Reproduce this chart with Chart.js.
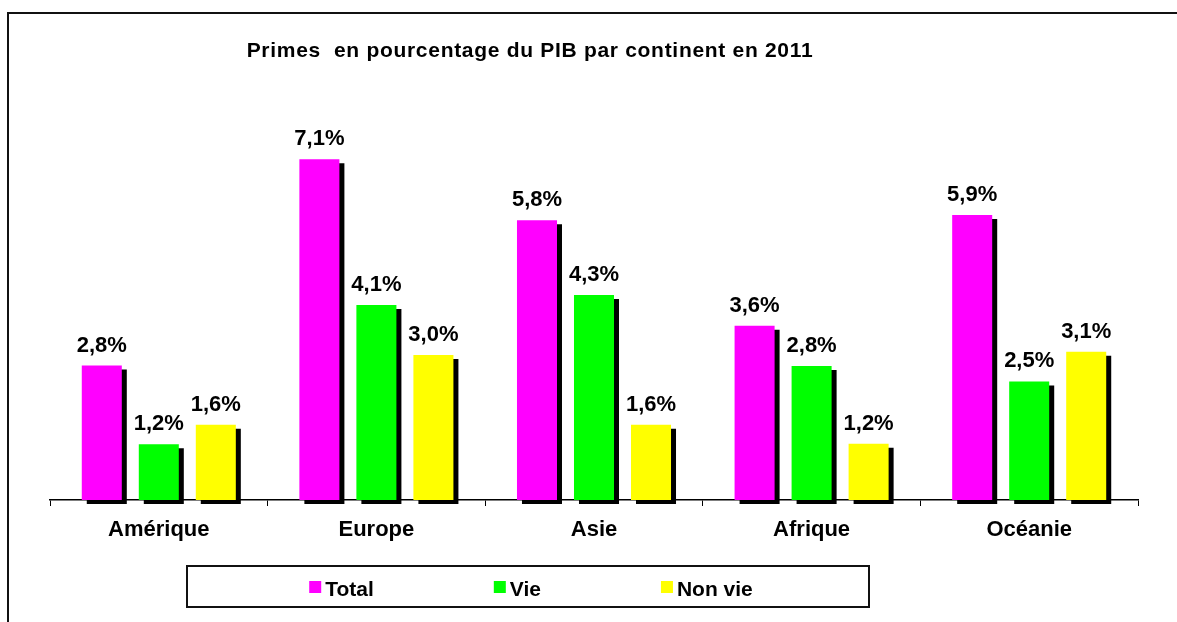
<!DOCTYPE html>
<html>
<head>
<meta charset="utf-8">
<script src="https://cdn.jsdelivr.net/npm/chart.js@4/dist/chart.umd.min.js"></script>
<style>
  body { margin: 0; background: #fff; }
  #wrap { width: 1177px; height: 622px; }
</style>
</head>
<body>
<div id="wrap"><canvas id="myChart" width="1177" height="622"></canvas></div>
<script>
'use strict';
var continents = ['Amérique', 'Europe', 'Asie', 'Afrique', 'Océanie'];
var total = [2.8, 7.1, 5.83, 3.63, 5.94];
var vie = [1.16, 4.06, 4.27, 2.79, 2.47];
var nonVie = [1.57, 3.02, 1.57, 1.17, 3.09];
var seriesNames = ['Total', 'Vie', 'Non vie'];
var seriesColors = ['#ff00ff', '#00ff00', '#ffff00'];
var chartTitle = 'Primes  en pourcentage du PIB par continent en 2011';

var FONT = '"Liberation Sans", Arial, sans-serif';

function fmt(v) {
  return v.toFixed(1).replace('.', ',') + '%';
}

// cadre (seuls les bords gauche et haut sont visibles) + titre
var framePlugin = {
  id: 'frame',
  beforeDraw: function (chart) {
    var c = chart.ctx;
    c.save();
    c.strokeStyle = '#111';
    c.lineWidth = 2;
    c.beginPath();
    c.moveTo(8, chart.height);
    c.lineTo(8, 13);
    c.lineTo(chart.width, 13);
    c.stroke();
    c.fillStyle = '#000';
    c.font = 'bold 21px ' + FONT;
    c.letterSpacing = '0.7px';
    c.textAlign = 'center';
    c.textBaseline = 'alphabetic';
    c.fillText(chartTitle, 530, 57);
    c.restore();
  }
};

// ombre noire décalée sous chaque barre, puis étiquettes
var shadowPlugin = {
  id: 'barShadow',
  beforeDatasetsDraw: function (chart) {
    var c = chart.ctx;
    c.save();
    c.shadowColor = '#000';
    c.shadowBlur = 0;
    c.shadowOffsetX = 5;
    c.shadowOffsetY = 4;
  },
  afterDatasetsDraw: function (chart) {
    var c = chart.ctx;
    c.restore();
    c.save();
    c.fillStyle = '#000';
    c.font = 'bold 22px ' + FONT;
    c.textAlign = 'center';
    c.textBaseline = 'alphabetic';
    chart.data.datasets.forEach(function (ds, i) {
      chart.getDatasetMeta(i).data.forEach(function (bar, j) {
        c.fillText(fmt(ds.data[j]), bar.x, bar.y - 14);
      });
    });
    c.restore();
  }
};

// légende encadrée
var legendPlugin = {
  id: 'boxLegend',
  afterDraw: function (chart) {
    var c = chart.ctx;
    c.save();
    c.strokeStyle = '#111';
    c.lineWidth = 2;
    c.strokeRect(187, 566, 682, 41);
    c.font = 'bold 21px ' + FONT;
    c.textBaseline = 'alphabetic';
    c.textAlign = 'left';
    var box = 12, gap = 4, spacing = 120;
    var widths = chart.data.datasets.map(function (ds) {
      return box + gap + c.measureText(ds.label).width;
    });
    var full = widths.reduce(function (a, b) { return a + b; }, 0) + spacing * (widths.length - 1);
    var x = 531 - full / 2;
    chart.data.datasets.forEach(function (ds, i) {
      c.fillStyle = ds.backgroundColor;
      c.fillRect(x, 581, box, box);
      c.fillStyle = '#000';
      c.fillText(ds.label, x + box + gap, 596);
      x += widths[i] + spacing;
    });
    c.restore();
  }
};

var ctx = document.getElementById('myChart').getContext('2d');
var myChart = new Chart(ctx, {
  type: 'bar',
  data: {
    labels: continents,
    datasets: [total, vie, nonVie].map(function (values, i) {
      return {
        label: seriesNames[i],
        data: values,
        backgroundColor: seriesColors[i],
        borderWidth: 0,
        categoryPercentage: 0.786,
        barPercentage: 0.702,
        clip: false
      };
    })
  },
  options: {
    responsive: false,
    maintainAspectRatio: false,
    animation: false,
    layout: { padding: { left: 50, right: 39, top: 116, bottom: 0 } },
    plugins: {
      legend: { display: false },
      title: { display: false },
      tooltip: { enabled: false }
    },
    scales: {
      x: {
        grid: {
          display: true,
          drawOnChartArea: false,
          drawTicks: true,
          tickLength: 6,
          color: '#000',
          offset: true
        },
        border: { display: true, color: '#000', width: 1.5 },
        ticks: {
          color: '#000',
          padding: 11,
          font: { family: FONT, size: 22, weight: 'bold' }
        },
        afterFit: function (scale) { scale.height = 122; }
      },
      y: {
        display: false,
        min: 0,
        max: 8
      }
    }
  },
  plugins: [framePlugin, shadowPlugin, legendPlugin]
});
</script>
</body>
</html>
